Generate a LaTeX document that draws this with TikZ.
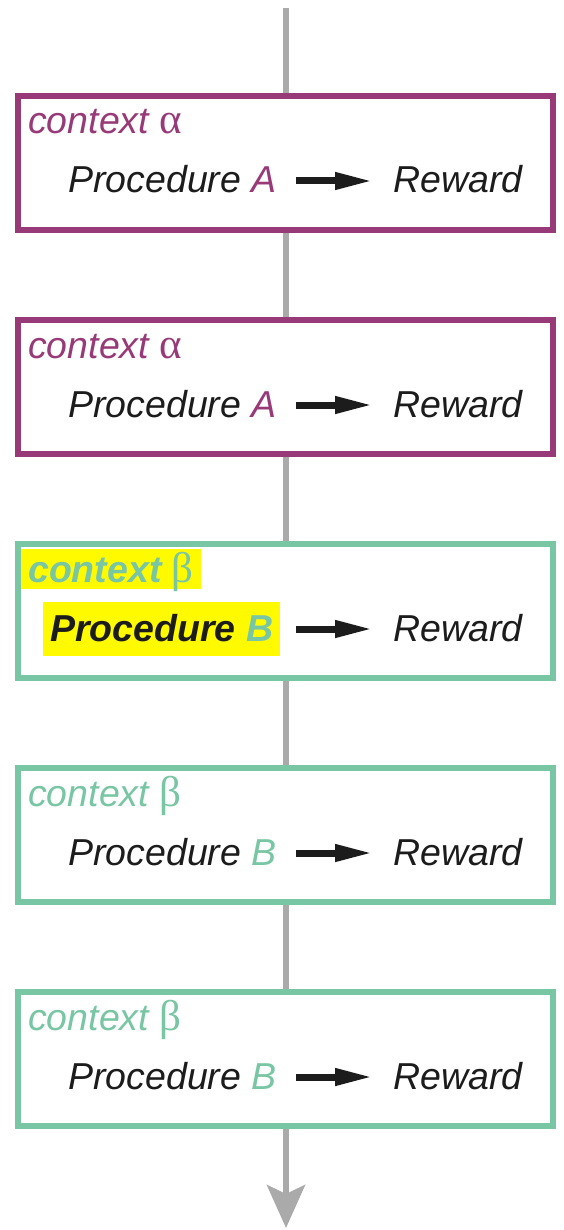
\documentclass[tikz,border=0pt]{standalone}
\usepackage{fontspec}
\setmainfont{Liberation Sans}
\newfontfamily\greekfont{Liberation Serif}
\usepackage{tikz}
\usetikzlibrary{positioning}
\usetikzlibrary{arrows.meta}
\definecolor{ctxpurple}{RGB}{152,58,120}
\definecolor{ctxteal}{RGB}{120,198,164}
\definecolor{flowgray}{RGB}{170,170,170}
\definecolor{marker}{RGB}{255,250,0}
\definecolor{ink}{RGB}{28,28,28}

\begin{document}
\begin{tikzpicture}[x=1pt,y=-1pt,
    every node/.style={font=\fontsize{37.5}{45}\selectfont\itshape,
                       inner sep=0pt, anchor=base west},
    trialbox/.style={draw=#1, line width=6pt, fill=white,
                     minimum width=535pt, minimum height=134pt, anchor=center},
    wordline/.style={text=ink, text height=24pt, text depth=0pt},
    marked/.style={fill=marker, inner xsep=7pt},
    flow/.style={draw=flowgray, line width=6pt,
                 -{Stealth[length=43pt,width=38pt,inset=9pt]}},
    leadsto/.style={draw=ink, line width=7pt,
                    -{Triangle[length=38pt,width=16pt]},
                    shorten <=19pt, shorten >=20pt}]
	\useasboundingbox (0,0) rectangle (564,1230);

	% time runs downwards
	\coordinate (start) at (286,8);
	\coordinate (end) at (286,1228);
	\draw[flow] (start) -- (end);

	\node[trialbox=ctxpurple] (box1) at (285.5,163) {};
	\node[trialbox=ctxpurple] (box2) at (285.5,387) {};
	\node[trialbox=ctxteal] (box3) at (285.5,611) {};
	\node[trialbox=ctxteal] (box4) at (285.5,835) {};
	\node[trialbox=ctxteal] (box5) at (285.5,1059) {};

	% context alpha
	\node[text=ctxpurple] (ctx1) at (28,134) {context {\fontsize{43}{45}\greekfont\upshape α}};
	\node[wordline] (proc1) at (68,193) {Procedure \textcolor{ctxpurple}{A}};
	\node[wordline] (rew1) at (393,193) {Reward};
	\draw[leadsto] (proc1) -- (rew1);

	\node[text=ctxpurple] (ctx2) at (28,358) {context {\fontsize{43}{45}\greekfont\upshape α}};
	\node[wordline] (proc2) at (68,417) {Procedure \textcolor{ctxpurple}{A}};
	\node[wordline] (rew2) at (393,417) {Reward};
	\draw[leadsto] (proc2) -- (rew2);

	% context beta, first trial
	\node[marked, text=ctxteal, text height=33pt, text depth=7pt,
	      font=\fontsize{37.5}{45}\selectfont\bfseries\itshape]
	      (ctx3) at (21,582) {context {\fontsize{43}{45}\greekfont\upshape\mdseries β}};
	\node[marked, wordline, text height=39pt, text depth=15pt,
	      font=\fontsize{37.5}{45}\selectfont\bfseries\itshape]
	      (proc3) at (43,641) {Procedure \textcolor{ctxteal}{B}};
	\node[wordline] (rew3) at (393,641) {Reward};
	\draw[leadsto, shorten <=16pt] (proc3) -- (rew3);

	\node[text=ctxteal] (ctx4) at (28,806) {context {\fontsize{43}{45}\greekfont\upshape β}};
	\node[wordline] (proc4) at (68,865) {Procedure \textcolor{ctxteal}{B}};
	\node[wordline] (rew4) at (393,865) {Reward};
	\draw[leadsto] (proc4) -- (rew4);

	\node[text=ctxteal] (ctx5) at (28,1030) {context {\fontsize{43}{45}\greekfont\upshape β}};
	\node[wordline] (proc5) at (68,1089) {Procedure \textcolor{ctxteal}{B}};
	\node[wordline] (rew5) at (393,1089) {Reward};
	\draw[leadsto] (proc5) -- (rew5);
\end{tikzpicture}
\end{document}
